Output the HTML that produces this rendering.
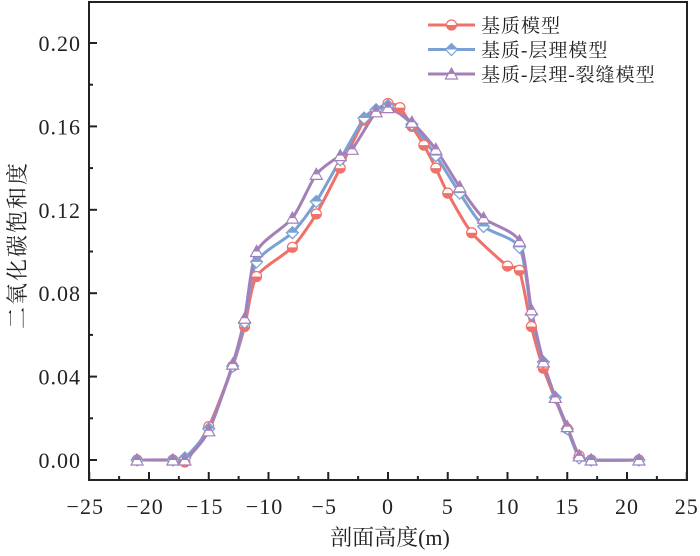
<!DOCTYPE html>
<html><head><meta charset="utf-8"><style>
body{margin:0;background:#fff;width:700px;height:551px;overflow:hidden}
svg text{font-family:"Liberation Serif","Noto Serif CJK SC",serif;fill:#222}
</style></head><body>
<svg id="s" width="700" height="551" xmlns="http://www.w3.org/2000/svg"></svg>
<script>
const s=document.getElementById('s');
const X=v=>388+v*11.95, Y=v=>460-v*2085;
let h='';
h+=`<rect x="89" y="2" width="598" height="478" fill="none" stroke="#222" stroke-width="2"/>`;
for(let v=-25;v<=25;v+=2.5){const x=X(v);h+=`<line x1="${x}" y1="480" x2="${x}" y2="${v%5==0?472:476}" stroke="#222" stroke-width="2"/>`;
 if(v%5==0)h+=`<text x="${v<0?x-4:x}" y="514" font-size="22" text-anchor="middle" letter-spacing="1">${v<0?'\u2212'+(-v):v}</text>`;}
for(let i=0;i<=10;i++){const v=i*0.02,y=Y(v);h+=`<line x1="89" y1="${y}" x2="${i%2==0?97:93}" y2="${y}" stroke="#222" stroke-width="2"/>`;
 if(i%2==0)h+=`<text x="81" y="${y+8}" font-size="22" text-anchor="end" letter-spacing="1">${v.toFixed(2)}</text>`;}
h+=`<text x="390" y="545" font-size="22" text-anchor="middle">剖面高度(m)</text>`;
h+=`<text transform="translate(25,245) rotate(-90)" font-size="22" text-anchor="middle" letter-spacing="2">二氧化碳饱和度</text>`;
const R=[[-21,0],[-18,0],[-17,-0.001],[-15,0.016],[-13,0.045],[-12,0.064],[-11,0.088],[-8,0.102],[-6,0.118],[-4,0.140],[-2,0.163],[-1,0.167],[0,0.171],[1,0.169],[2,0.160],[3,0.151],[4,0.140],[5,0.128],[7,0.109],[10,0.093],[11,0.091],[12,0.064],[13,0.044],[15,0.015],[16,0.002],[17,0],[21,0]];
const B=[[-21,0],[-18,0],[-17,0.001],[-15,0.015],[-13,0.045],[-12,0.066],[-11,0.095],[-8,0.109],[-6,0.124],[-4,0.144],[-2,0.164],[-1,0.168],[0,0.170],[2,0.161],[4,0.146],[6,0.128],[8,0.112],[11,0.102],[12,0.070],[13,0.047],[14,0.030],[15,0.015],[16,0.001],[17,0],[21,0]];
const P=[[-21,0],[-18,0],[-17,0],[-15,0.014],[-13,0.046],[-12,0.068],[-11,0.100],[-8,0.116],[-6,0.137],[-4,0.146],[-3,0.149],[-1,0.167],[0,0.169],[2,0.162],[4,0.149],[6,0.131],[8,0.116],[11,0.105],[12,0.072],[13,0.047],[14,0.030],[15,0.016],[16,0.002],[17,0],[21,0]];
function path(d){const p=d.map(a=>[X(a[0]),Y(a[1])]);let s=`M${p[0]}`;
 for(let i=0;i<p.length-1;i++){const p0=p[i-1]||p[i],p1=p[i],p2=p[i+1],p3=p[i+2]||p2;const t=0.12;
 s+=` C${p1[0]+(p2[0]-p0[0])*t},${p1[1]+(p2[1]-p0[1])*t} ${p2[0]-(p3[0]-p1[0])*t},${p2[1]-(p3[1]-p1[1])*t} ${p2[0]},${p2[1]}`;}return s;}
function mk(type,x,y,c){
 if(type==0)return `<circle cx="${x}" cy="${y}" r="5" fill="#fff" stroke="${c}" stroke-width="1.2"/><path d="M${x-5},${y} A5,5 0 0 0 ${x+5},${y}Z" fill="${c}"/>`;
 if(type==1)return `<path d="M${x},${y-6} L${x+6},${y} L${x},${y+6} L${x-6},${y}Z" fill="#fff" stroke="${c}" stroke-width="1.2"/><path d="M${x},${y-6} L${x+6},${y} L${x-6},${y}Z" fill="${c}"/>`;
 return `<path d="M${x},${y-6} L${x+6},${y+5} L${x-6},${y+5}Z" fill="#fff" stroke="${c}" stroke-width="1.2"/><path d="M${x},${y-6} L${x+3.3},${y} L${x-3.3},${y}Z" fill="${c}"/>`;}
const S=[[R,'#f0706a',0],[B,'#7aa0d4',1],[P,'#a47fb8',2]];
S.forEach(([d,c,t])=>{h+=`<path d="${path(d)}" fill="none" stroke="${c}" stroke-width="3" stroke-linejoin="round"/>`;});
S.forEach(([d,c,t])=>{d.forEach(a=>h+=mk(t,X(a[0]),Y(a[1]),c));});
const names=['基质模型','基质-层理模型','基质-层理-裂缝模型'];
S.forEach(([d,c,t],i)=>{const y=25+i*24.5;h+=`<line x1="428" y1="${y}" x2="475" y2="${y}" stroke="${c}" stroke-width="3"/>`+mk(t,451.5,y,c)+`<text x="481" y="${y+7}" font-size="19" letter-spacing="1">${names[i]}</text>`;});
s.innerHTML=h;
</script>
</body></html>
